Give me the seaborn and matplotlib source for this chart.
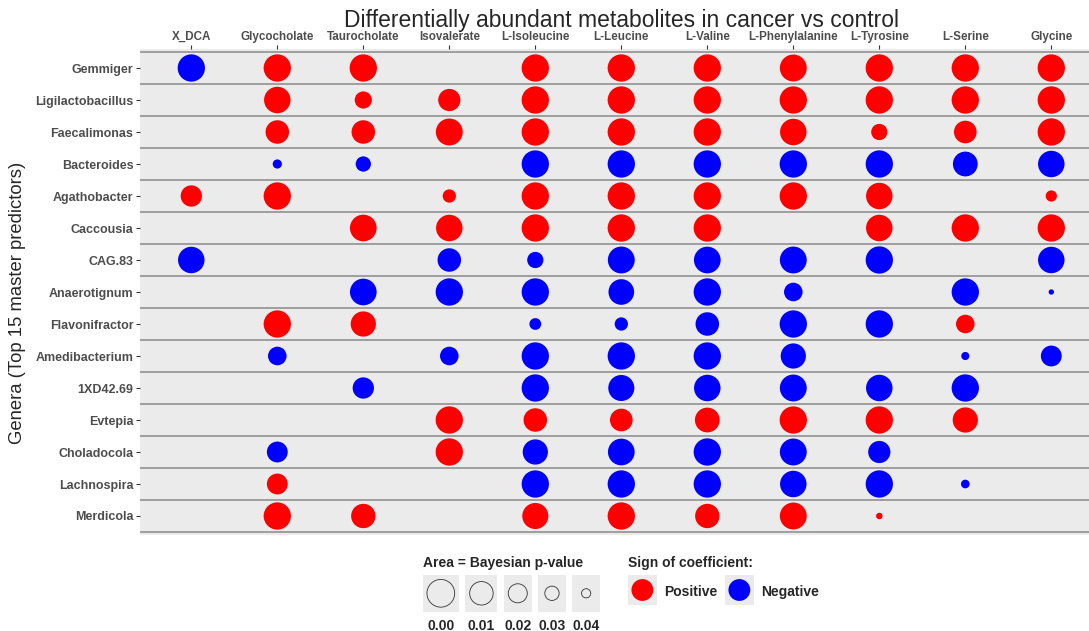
import numpy as np
import pandas as pd
import matplotlib
matplotlib.use("Agg")
import matplotlib.pyplot as plt
import seaborn as sns
from matplotlib.patches import Rectangle, Circle

# ---- data -------------------------------------------------------------
metabolites = ["X_DCA", "Glycocholate", "Taurocholate", "Isovalerate",
               "L-Isoleucine", "L-Leucine", "L-Valine", "L-Phenylalanine",
               "L-Tyrosine", "L-Serine", "Glycine"]

genera = ["Gemmiger", "Ligilactobacillus", "Faecalimonas", "Bacteroides",
          "Agathobacter", "Caccousia", "CAG.83", "Anaerotignum",
          "Flavonifractor", "Amedibacterium", "1XD42.69", "Evtepia",
          "Choladocola", "Lachnospira", "Merdicola"]

nan = np.nan
# Bayesian p-values (rows = genera, columns = metabolites)
p_values = [
    [0.001, 0.001, 0.001, nan,   0.001, 0.001, 0.001, 0.002, 0.001, 0.001, 0.001],
    [nan,   0.003, 0.024, 0.013, 0.001, 0.001, 0.001, 0.001, 0.001, 0.001, 0.001],
    [nan,   0.010, 0.010, 0.002, 0.001, 0.001, 0.001, 0.003, 0.026, 0.012, 0.001],
    [nan,   0.040, 0.028, nan,   0.001, 0.001, 0.001, 0.001, 0.001, 0.007, 0.003],
    [0.015, 0.001, nan,   0.032, 0.001, 0.001, 0.001, 0.001, 0.003, nan,   0.036],
    [nan,   nan,   0.0025, 0.003, 0.001, 0.001, 0.001, nan,  0.003, 0.001, 0.001],
    [0.003, nan,   nan,   0.010, 0.026, 0.002, 0.0025, 0.002, 0.001, nan,  0.003],
    [nan,   nan,   0.0025, 0.001, 0.001, 0.005, 0.001, 0.021, nan,  0.001, 0.047],
    [nan,   0.001, 0.006, nan,   0.035, 0.032, 0.010, 0.001, 0.001, 0.021, nan],
    [nan,   0.021, nan,   0.021, 0.001, 0.001, 0.001, 0.006, nan,   0.042, 0.016],
    [nan,   nan,   0.015, nan,   0.001, 0.004, 0.003, 0.002, 0.003, 0.001, nan],
    [nan,   nan,   nan,   0.001, 0.010, 0.012, 0.007, 0.001, 0.001, 0.006, nan],
    [nan,   0.016, nan,   0.001, 0.006, 0.0025, 0.001, 0.002, 0.013, nan,  nan],
    [nan,   0.016, nan,   nan,   0.001, 0.001, 0.001, 0.003, 0.001, 0.041, nan],
    [nan,   0.001, 0.008, nan,   0.004, 0.001, 0.008, 0.002, 0.045, nan,   nan],
]

# sign of the regression coefficient: + positive, - negative, . not selected
coef_sign = [
    "-++.+++++++",   # Gemmiger
    ".++++++++++",   # Ligilactobacillus
    ".++++++++++",   # Faecalimonas
    ".--.-------",   # Bacteroides
    "++.++++++.+",   # Agathobacter
    "..+++++.+++",   # Caccousia
    "-..------.-",   # CAG.83
    "..------.--",   # Anaerotignum
    ".++.-----+.",   # Flavonifractor
    ".-.-----.--",   # Amedibacterium
    "..-.------.",   # 1XD42.69
    "...+++++++.",   # Evtepia
    ".-.+-----..",   # Choladocola
    ".+..------.",   # Lachnospira
    ".++.+++++..",   # Merdicola
]

size_breaks = [0.00, 0.01, 0.02, 0.03, 0.04]
sign_labels = {"+": "Positive", "-": "Negative"}
sign_colors = {"Positive": "#FF0000", "Negative": "#0000FF"}


def diameter_px(p):
    """Marker diameter (pixels) for a Bayesian p-value: smaller p, larger dot."""
    return -54.5 + 260.0 * np.sqrt(0.1 - np.asarray(p, dtype=float))


# ---- long table ----------------------------------------------------------
records = []
for gi, (g, prow, srow) in enumerate(zip(genera, p_values, coef_sign)):
    for mi, (m, p, s) in enumerate(zip(metabolites, prow, srow)):
        if np.isnan(p) or s == ".":
            continue
        records.append({"genus": g, "metabolite": m, "row": gi, "col": mi,
                        "p": p, "sign": sign_labels[s]})
df = pd.DataFrame(records)
df["area"] = (diameter_px(df["p"]) * 0.72) ** 2  # marker area in pt^2

# ---- figure --------------------------------------------------------------
sns.set_style("white")
plt.rcParams["font.family"] = ["Liberation Sans", "DejaVu Sans"]

W, H = 1089, 631
fig = plt.figure(figsize=(W / 100, H / 100), dpi=100)

n_col, n_row = len(metabolites), len(genera)
x0, dx = 191.3, 86.0      # pixel centre of first column, column step
y0, dy = 68.0, 32.0       # pixel centre of first row, row step
left_px = x0 - 0.6 * dx
right_px = x0 + (n_col - 1 + 0.6) * dx
top_px = y0 - 0.6 * dy
bot_px = y0 + (n_row - 1 + 0.6) * dy
ax = fig.add_axes([left_px / W, 1 - bot_px / H,
                   (right_px - left_px) / W, (bot_px - top_px) / H])
ax.set_facecolor("#EBEBEB")

amin, amax = df["area"].min(), df["area"].max()
sns.scatterplot(data=df, x="col", y="row", hue="sign", palette=sign_colors,
                size="area", sizes=(amin, amax), size_norm=(amin, amax),
                linewidth=0, legend=False, ax=ax, zorder=3)

for b in np.arange(-0.5, n_row, 1.0):
    ax.axhline(b, color="#8A8A8A", lw=1.1, zorder=2)

ax.set_xlim(-0.6, n_col - 1 + 0.6)
ax.set_ylim(n_row - 1 + 0.6, -0.6)
for sp in ax.spines.values():
    sp.set_visible(False)

ax.set_xticks(range(n_col))
ax.set_xticklabels(metabolites, fontsize=8.4, fontweight="bold", color="#4D4D4D")
ax.set_yticks(range(n_row))
ax.set_yticklabels(genera, fontsize=9, fontweight="bold", color="#4D4D4D")
ax.tick_params(axis="x", top=True, labeltop=True, bottom=False, labelbottom=False,
               length=3, width=0.8, color="#333333", pad=1.5)
ax.tick_params(axis="y", left=True, length=3, width=0.8, color="#333333", pad=1.5)
ax.set_xlabel("")
ax.set_ylabel("")

fig.text(18 / W, 1 - 303 / H, "Genera (Top 15 master predictors)",
         rotation=90, ha="center", va="center", fontsize=13.3)

fig.text((left_px + right_px) / 2 / W, 1 - 20 / H,
         "Differentially abundant metabolites in cancer vs control",
         ha="center", va="center", fontsize=16.5)

# ---- legends (drawn on a pixel-space overlay) ----------------------------
ov = fig.add_axes([0, 0, 1, 1], zorder=5)
ov.set_xlim(0, W)
ov.set_ylim(H, 0)
ov.axis("off")

ov.text(422.7, 567, "Area = Bayesian p-value", fontsize=10, fontweight="bold",
        ha="left", va="baseline")
kx = 422.7
for br in size_breaks:
    d = float(diameter_px(br))
    kw = max(27.7, d + 8.5)
    ov.add_patch(Rectangle((kx, 575), kw, 36.7, facecolor="#EBEBEB", edgecolor="none"))
    ov.add_patch(Circle((kx + kw / 2, 593.3), d / 2, facecolor="none",
                        edgecolor="#333333", lw=0.6))
    ov.text(kx + kw / 2, 629.5, f"{br:.2f}", fontsize=10, fontweight="bold",
            ha="center", va="baseline")
    kx += kw + 6.5

ov.text(628.3, 567, "Sign of coefficient:", fontsize=10, fontweight="bold",
        ha="left", va="baseline")
cx = 628.0
for lab in ["Positive", "Negative"]:
    ov.add_patch(Rectangle((cx, 575), 28.7, 30, facecolor="#EBEBEB", edgecolor="none"))
    ov.add_patch(Circle((cx + 14.35, 590), 10.9, facecolor=sign_colors[lab],
                        edgecolor="none"))
    ov.text(cx + 36.3, 596, lab, fontsize=10, fontweight="bold",
            ha="left", va="baseline")
    cx += 97.0

fig.savefig("out.png", dpi=100)
